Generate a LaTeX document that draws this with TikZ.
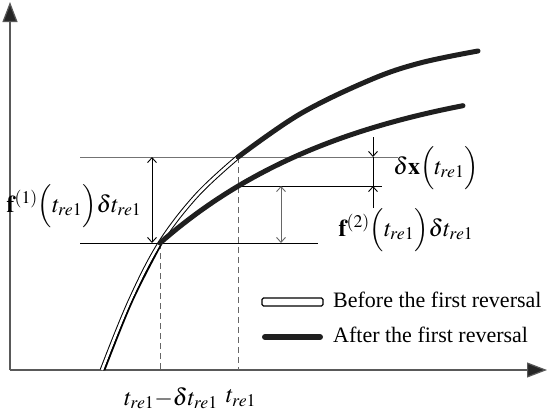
\documentclass[tikz,border=0pt]{standalone}
\usepackage{mathptmx}
\usepackage{fontspec}
\setmainfont{Liberation Serif}
\usetikzlibrary{arrows.meta}
\begin{document}
\begin{tikzpicture}[x=1pt,y=-1pt,
  axis/.style={line width=1.2pt, draw=black!65, -{Triangle[length=20pt,width=15pt,fill=black!85]}},
  guide/.style={line width=0.9pt, draw=black!55},
  guideblack/.style={line width=0.9pt, draw=black},
  dimboth/.style={line width=0.9pt, {Straight Barb[length=5pt,width=9pt]}-{Straight Barb[length=5pt,width=9pt]}},
  dimone/.style={line width=0.9pt, -{Straight Barb[length=5pt,width=9pt]}},
  dashline/.style={line width=1pt, draw=black!60, dash pattern=on 6pt off 4pt},
  thickcurve/.style={line width=5pt, draw=black!88, line cap=round},
  doublecurve/.style={line width=1pt, draw=black, double=white, double distance=2.6pt},
  mathlbl/.style={inner sep=0pt, font=\fontsize{24}{28}\selectfont},
  legendlbl/.style={inner sep=0pt, anchor=base west, font=\fontsize{22}{26}\selectfont},
]
\useasboundingbox (0,0) rectangle (547,418);

% coordinates
\coordinate (O) at (10,370);
\coordinate (Ytop) at (10,2);
\coordinate (Xend) at (547,370);
\coordinate (P1) at (160,243);   % t_re1 - delta t point
\coordinate (P2) at (238,157);   % t_re1 on upper curve
\coordinate (P3) at (238,186);   % t_re1 on lower curve
\coordinate (X1) at (160,370);
\coordinate (X2) at (238,370);

% axes
\draw[axis] (O) -- (Ytop);
\draw[axis] (O) -- (Xend);

% horizontal guide lines
\coordinate (TopL) at (80,157);  \coordinate (TopR) at (398,157);
\coordinate (MidR) at (382,186);
\coordinate (BotL) at (80,243);  \coordinate (BotR) at (318,243);
\draw[guide] (TopL) -- (TopR);
\draw[guideblack] (P3) -- (MidR);
\draw[guideblack] (BotL) -- (BotR);

% dashed verticals
\draw[dashline] (P1) -- (X1);
\draw[dashline] (P2) -- (X2);

% dimension arrows
\coordinate (A1t) at (152,157); \coordinate (A1b) at (152,243);
\draw[dimboth] (A1t) -- (A1b);
\coordinate (A2t) at (281,186); \coordinate (A2b) at (281,243);
\draw[dimboth, draw=black!60] (A2t) -- (A2b);
\coordinate (D0) at (373,137); \coordinate (D1) at (373,157);
\coordinate (D2) at (373,186); \coordinate (D3) at (373,208);
\draw[dimone] (D0) -- (D1);
\draw[line width=0.9pt] (D1) -- (D2);
\draw[dimone] (D3) -- (D2);

% curves
\draw[doublecurve] plot[smooth, tension=0.6] coordinates {(102,370) (130,301) (160,243) (197,195) (238,157)};
\draw[line width=1.6pt, black] plot[smooth, tension=0.6] coordinates {(104.6,370) (132.4,301) (162,243)};
\draw[thickcurve] plot[smooth, tension=0.6] coordinates {(238,157) (300,114) (370,80) (420,63) (478,51)};
\draw[thickcurve] plot[domain=160:463, samples=40, smooth] (\x, {243-176*(1-exp(-(\x-160)/200))});

% labels
\node[mathlbl] (Lf1) at (74,206) {$\mathbf{f}^{(1)}\Bigl(t_{re1}\Bigr)\delta t_{re1}$};
\node[mathlbl] (Lf2) at (406,230) {$\mathbf{f}^{(2)}\Bigl(t_{re1}\Bigr)\delta t_{re1}$};
\node[mathlbl] (Ldx) at (436,168) {$\delta\mathbf{x}\Bigl(t_{re1}\Bigr)$};
\node[mathlbl] (Lt1) at (171,398) {$t_{re1}{-}\delta t_{re1}$};
\node[mathlbl] (Lt2) at (241,398) {$t_{re1}$};

% legend
\draw[line width=1.3pt, rounded corners=1.5pt, fill=white] (262,298) rectangle (323,306);
\draw[line width=6pt, black!88, line cap=round] (265,337) -- (320,337);
\node[legendlbl] (Lb) at (333,307) {Before the first reversal};
\node[legendlbl] (La) at (333,342) {After the first reversal};
\end{tikzpicture}
\end{document}
